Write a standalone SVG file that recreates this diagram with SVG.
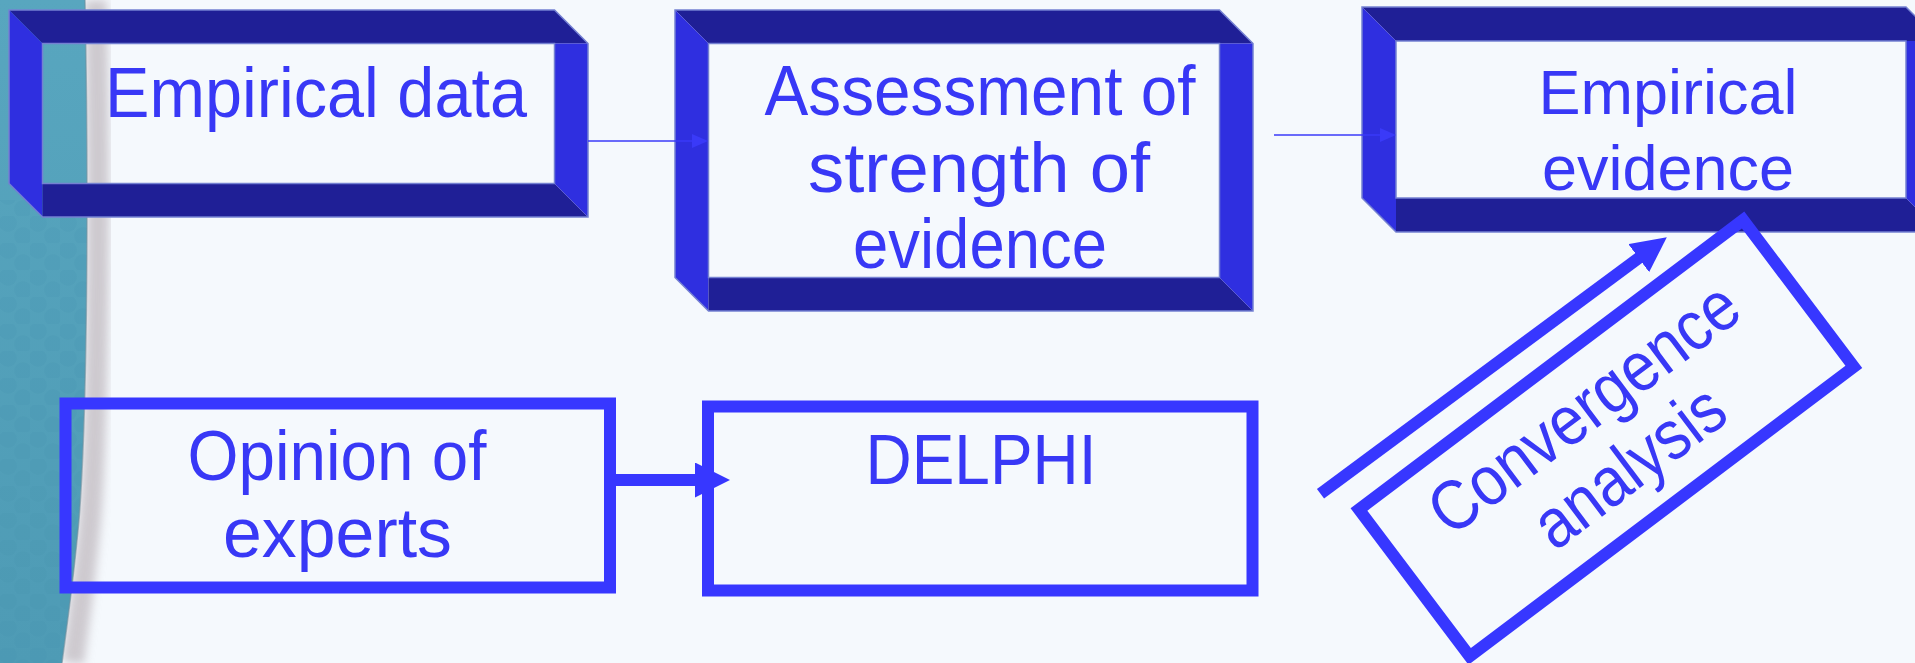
<svg xmlns="http://www.w3.org/2000/svg" width="1915" height="663" viewBox="0 0 1915 663">
  <style>
    .bg { fill: #f5f9fd; }
    .dark { fill: #1f1f96; }
    .light { fill: #2f2fe0; }
    .rim { fill: none; stroke: #7481d2; stroke-width: 1.5; }
    .comic { font-family: "Comic Sans MS", "Liberation Sans", sans-serif; font-size: 70px; fill: #3838f6; text-anchor: middle; }
    .plain { font-family: "Liberation Sans", Arial, sans-serif; font-size: 63px; fill: #3838f6; text-anchor: middle; }
    .frame { fill: none; stroke: #3737ff; stroke-width: 12; }
    .thin { stroke: #3a3af8; stroke-width: 1.6; fill: none; }
    .thick { stroke: #3737ff; stroke-width: 12; fill: none; }
  </style>
  <defs>
    <linearGradient id="tealGrad" x1="0" y1="0" x2="0" y2="1">
      <stop offset="0" stop-color="#58a6bf"/>
      <stop offset="1" stop-color="#4e9bb5"/>
    </linearGradient>
    <pattern id="cells" width="30" height="27" patternUnits="userSpaceOnUse">
      <circle cx="8" cy="7" r="9" fill="#3f8aa6" opacity="0.13"/>
      <circle cx="23" cy="20" r="9" fill="#3f8aa6" opacity="0.13"/>
    </pattern>
    <filter id="soft" x="-50%" y="-10%" width="200%" height="120%">
      <feGaussianBlur stdDeviation="5"/>
    </filter>
    <marker id="headSmall" markerUnits="userSpaceOnUse" markerWidth="16" markerHeight="14" refX="0" refY="7" orient="auto">
      <path d="M0,0 L16,7 L0,14 Z" fill="#3a3af8"/>
    </marker>
    <marker id="headLarge" markerUnits="userSpaceOnUse" markerWidth="35" markerHeight="35" refX="1" refY="17.5" orient="auto">
      <path d="M0,0 L35,17.5 L0,35 Z" fill="#3737ff"/>
    </marker>
  </defs>

  <!-- page background -->
  <rect class="bg" x="0" y="0" width="1915" height="663"/>

  <!-- textured side strip with its soft shaded edge -->
  <g id="side-strip">
    <path d="M96,0 C100,200 98,420 90,520 C84,585 78,625 73,663" fill="none" stroke="#bdb6bc" stroke-width="22" opacity="0.7" filter="url(#soft)"/>
    <path d="M0,0 H85 C89,200 87,420 79,520 C73,585 67,625 62,663 H0 Z" fill="url(#tealGrad)"/>
    <path d="M0,200 H87 C87,420 79,520 79,520 C73,585 67,625 62,663 H0 Z" fill="url(#cells)"/>
    <path d="M85,0 C89,200 87,420 79,520 C73,585 67,625 62,663" fill="none" stroke="#6f8f9c" stroke-width="1.5" opacity="0.6"/>
  </g>

  <!-- bevelled frame: Empirical data -->
  <g id="node-empirical-data">
    <polygon class="dark" points="9,10 554.5,10 588,43.5 42.5,43.5"/>
    <polygon class="light" points="9,10 42.5,43.5 42.5,217 9,183.5"/>
    <polygon class="dark" points="42.5,183.5 554.5,183.5 588,217 42.5,217"/>
    <polygon class="light" points="554.5,43.5 588,43.5 588,217 554.5,183.5"/>
    <polygon class="rim" points="9,10 554.5,10 588,43.5 588,217 42.5,217 9,183.5"/>
    <rect class="rim" x="42.5" y="43.5" width="512" height="140"/>
    <text class="comic" x="316" y="117" textLength="422" lengthAdjust="spacingAndGlyphs">Empirical data</text>
  </g>

  <!-- bevelled frame: Assessment of strength of evidence -->
  <g id="node-assessment">
    <polygon class="dark" points="675,10 1219.5,10 1253,43.5 708.5,43.5"/>
    <polygon class="light" points="675,10 708.5,43.5 708.5,311 675,277.5"/>
    <polygon class="dark" points="708.5,277.5 1219.5,277.5 1253,311 708.5,311"/>
    <polygon class="light" points="1219.5,43.5 1253,43.5 1253,311 1219.5,277.5"/>
    <polygon class="rim" points="675,10 1219.5,10 1253,43.5 1253,311 708.5,311 675,277.5"/>
    <rect class="rim" x="708.5" y="43.5" width="511" height="234"/>
    <text class="comic" x="980" y="115" textLength="431" lengthAdjust="spacingAndGlyphs">Assessment of</text>
    <text class="comic" x="979" y="192" textLength="342" lengthAdjust="spacingAndGlyphs">strength of</text>
    <text class="comic" x="980" y="268" textLength="254" lengthAdjust="spacingAndGlyphs">evidence</text>
  </g>

  <!-- bevelled frame: Empirical evidence (runs off the right edge) -->
  <g id="node-empirical-evidence">
    <polygon class="dark" points="1362,7 1906,7 1940,41 1396,41"/>
    <polygon class="light" points="1362,7 1396,41 1396,232 1362,198"/>
    <polygon class="dark" points="1396,198 1906,198 1940,232 1396,232"/>
    <polygon class="light" points="1906,41 1940,41 1940,232 1906,198"/>
    <polygon class="rim" points="1362,7 1906,7 1940,41 1940,232 1396,232 1362,198"/>
    <rect class="rim" x="1396" y="41" width="510" height="157"/>
    <text class="plain" x="1668" y="114">Empirical</text>
    <text class="plain" x="1668" y="190">evidence</text>
  </g>

  <!-- plain frame: Opinion of experts -->
  <g id="node-opinion">
    <rect class="frame" x="65.5" y="403.5" width="544.5" height="184"/>
    <text class="comic" x="337" y="480" textLength="299" lengthAdjust="spacingAndGlyphs">Opinion of</text>
    <text class="comic" x="337.5" y="557" textLength="229" lengthAdjust="spacingAndGlyphs">experts</text>
  </g>

  <!-- plain frame: DELPHI -->
  <g id="node-delphi">
    <rect class="frame" x="708" y="406.5" width="544.5" height="184"/>
    <text class="comic" x="981" y="484" textLength="231" lengthAdjust="spacingAndGlyphs">DELPHI</text>
  </g>

  <!-- tilted frame: Convergence analysis -->
  <g id="node-convergence" transform="translate(1606.4,438.2) rotate(-37)">
    <rect class="frame" x="-240.5" y="-92" width="481" height="184"/>
    <text class="comic" x="0" y="-14" textLength="369" lengthAdjust="spacingAndGlyphs">Convergence</text>
    <text class="comic" x="1" y="60" textLength="221" lengthAdjust="spacingAndGlyphs">analysis</text>
  </g>

  <!-- connectors -->
  <g id="connectors">
    <line class="thin" x1="588" y1="141" x2="692" y2="141" marker-end="url(#headSmall)"/>
    <line class="thin" x1="1274" y1="135" x2="1380" y2="135" marker-end="url(#headSmall)"/>
    <line class="thick" x1="616" y1="480" x2="696" y2="480" marker-end="url(#headLarge)"/>
    <line class="thick" stroke-width="11" x1="1320.5" y1="493.7" x2="1639.5" y2="257.5" marker-end="url(#headLarge)"/>
  </g>
</svg>
